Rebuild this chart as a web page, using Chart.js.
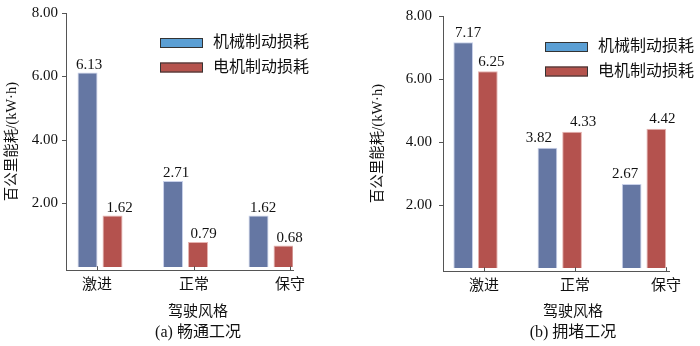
<!DOCTYPE html>
<html>
<head>
<meta charset="utf-8">
<script src="https://cdn.jsdelivr.net/npm/chart.js@4.4.1/dist/chart.umd.min.js"></script>
<style>
  body { margin: 0; background: #fff; }
  .wrap { position: absolute; top: 0; width: 350px; height: 346px; }
</style>
</head>
<body>
<div class="wrap" style="left:0"><canvas id="chartA"></canvas></div>
<div class="wrap" style="left:350px"><canvas id="chartB"></canvas></div>
<script>
const styles = ["激进", "正常", "保守"];
const seriesNames = ["机械制动损耗", "电机制动损耗"];
const smoothMech = [6.13, 2.71, 1.62];
const smoothMotor = [1.62, 0.79, 0.68];
const jamMech = [7.17, 3.82, 2.67];
const jamMotor = [6.25, 4.33, 4.42];
const yTicks = [2, 4, 6, 8];

const FONT = "'Liberation Serif', 'Noto Sans CJK SC', serif";
const AXIS = "#555";
const barColors = ["#6577a3", "#b4524e"];
const barEdges = ["#c9d1ea", "#e6b3b0"];
const legendColors = ["#5b9fd4", "#b5534d"];

// value labels above each bar
const valueLabels = {
	id: "valueLabels",
	afterDatasetsDraw(chart, args, opts) {
		const ctx = chart.ctx;
		ctx.save();
		ctx.font = "15px " + FONT;
		ctx.fillStyle = "#111";
		ctx.textAlign = "center";
		ctx.textBaseline = "bottom";
		chart.data.datasets.forEach((ds, di) => {
			chart.getDatasetMeta(di).data.forEach((bar, i) => {
				const dx = opts.shift[di][i];
				ctx.fillText(ds.data[i].y.toFixed(2), bar.x + dx, bar.y - opts.gap);
			});
		});
		ctx.restore();
	}
};

// legend drawn inside the plot
const innerLegend = {
	id: "innerLegend",
	afterDraw(chart, args, opts) {
		const ctx = chart.ctx;
		ctx.save();
		ctx.font = "16px " + FONT;
		ctx.textBaseline = "middle";
		ctx.textAlign = "left";
		chart.data.datasets.forEach((ds, i) => {
			const y = opts.y + i * 24.5;
			ctx.fillStyle = legendColors[i];
			ctx.fillRect(opts.x, y, 43, 10);
			ctx.strokeStyle = "#333";
			ctx.lineWidth = 1;
			ctx.strokeRect(opts.x + 0.5, y + 0.5, 42, 9);
			ctx.fillStyle = "#111";
			ctx.fillText(ds.label, opts.x + 53, y + 5);
		});
		ctx.restore();
	}
};

// small inward ticks on the x axis
const innerTicks = {
	id: "innerTicks",
	afterDraw(chart) {
		const ctx = chart.ctx;
		const x = chart.scales.x;
		ctx.save();
		ctx.strokeStyle = AXIS;
		ctx.lineWidth = 1;
		x.ticks.forEach((t, i) => {
			const px = Math.round(x.getPixelForTick(i)) + 0.5;
			ctx.beginPath();
			ctx.moveTo(px, chart.chartArea.bottom);
			ctx.lineTo(px, chart.chartArea.bottom - 4);
			ctx.stroke();
		});
		ctx.restore();
	}
};

// axis name and panel caption under the plot
const captions = {
	id: "captions",
	afterDraw(chart, args, opts) {
		const ctx = chart.ctx;
		ctx.save();
		ctx.fillStyle = "#111";
		ctx.textAlign = "center";
		ctx.textBaseline = "middle";
		ctx.font = "15px " + FONT;
		ctx.fillText("驾驶风格", opts.x, 312);
		ctx.font = "16px " + FONT;
		ctx.fillText(opts.text, opts.x, 333);
		ctx.restore();
	}
};

function makeChart(id, mech, motor, title, o) {
	return new Chart(document.getElementById(id), {
		type: "bar",
		data: {
			datasets: [mech, motor].map((vals, k) => ({
				label: seriesNames[k],
				data: vals.map((v, i) => ({ x: i, y: v })),
				backgroundColor: barColors[k],
				borderColor: barEdges[k],
				borderWidth: 1,
				categoryPercentage: 0.585,
				barPercentage: 0.8
			}))
		},
		options: {
			responsive: true,
			maintainAspectRatio: false,
			animation: false,
			layout: { padding: { top: o.top, right: o.right, left: 0, bottom: o.bottom } },
			scales: {
				x: {
					type: "linear",
					offset: false,
					min: o.xMin,
					max: o.xMax,
					afterBuildTicks: s => { s.ticks = o.labelAt.map(v => ({ value: v })); },
					afterFit: s => { s.height = 30; },
					grid: { display: true, offset: false, drawOnChartArea: false, drawTicks: false },
					border: { color: AXIS, width: 1 },
					ticks: {
						autoSkip: false,
						maxRotation: 0,
						padding: 6,
						color: "#111",
						font: { family: FONT, size: 15 },
						callback: (v, i) => styles[i]
					}
				},
				y: {
					min: -0.1,
					max: 8,
					afterBuildTicks: s => { s.ticks = yTicks.map(v => ({ value: v })); },
					afterFit: s => { s.width = o.left; },
					grid: { drawOnChartArea: false, drawTicks: true, tickLength: 4, color: AXIS },
					border: { color: AXIS, width: 1 },
					ticks: {
						padding: o.tickPad,
						color: "#111",
						font: { family: FONT, size: 15 },
						callback: v => v.toFixed(2)
					},
					title: {
						display: true,
						text: "百公里能耗/(kW·h)",
						color: "#111",
						font: { family: FONT, size: 14.5 },
						padding: { top: o.yTitlePad, bottom: 0 }
					}
				}
			},
			plugins: {
				legend: { display: false },
				tooltip: { enabled: false },
				innerLegend: o.legend,
				valueLabels: o.labels,
				captions: { text: title, x: o.captionX }
			}
		},
		plugins: [valueLabels, innerLegend, innerTicks, captions]
	});
}

makeChart("chartA", smoothMech, smoothMotor, "(a) 畅通工况", {
	top: 11, right: 57, left: 66, bottom: 45.8,
	xMin: -0.398, xMax: 2.257, labelAt: [-0.035, 1.099, 2.222],
	tickPad: 4, yTitlePad: 3.4, captionX: 198,
	legend: { x: 160, y: 38 },
	labels: { gap: 0, shift: [[1.5, 3, 4.5], [7, 5.5, 6]] }
});

makeChart("chartB", jamMech, jamMotor, "(b) 拥堵工况", {
	top: 15, right: 31, left: 93, bottom: 44.8,
	xMin: -0.386, xMax: 2.297, labelAt: [0.101, 1.181, 2.261],
	tickPad: 7, yTitlePad: 19.4, captionX: 223,
	legend: { x: 195, y: 42 },
	labels: { gap: 2, shift: [[5, -8.5, -6.5], [3.5, 11, 6]] }
});
</script>
</body>
</html>
